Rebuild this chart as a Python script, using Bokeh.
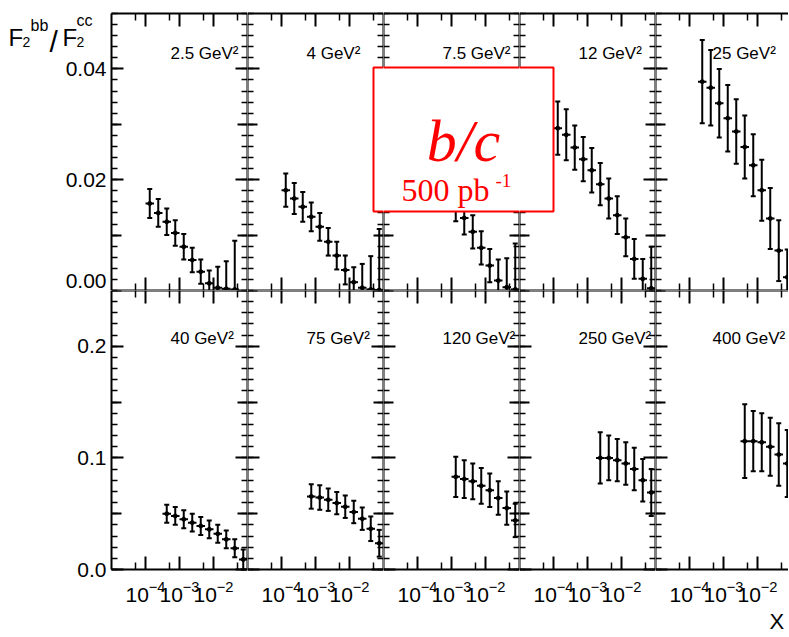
import math
from bokeh.plotting import figure
from bokeh.models import (Range1d, LinearAxis, LogAxis, FixedTicker,
                          PrintfTickFormatter, Label, BoxAnnotation, ColumnDataSource)
from bokeh.layouts import column, row
from bokeh.embed import file_html
from bokeh.resources import INLINE

# ---------------- data ----------------
X_BINS = [1.334e-4, 2.371e-4, 4.217e-4, 7.499e-4, 1.334e-3, 2.371e-3,
          4.217e-3, 7.499e-3, 1.334e-2, 2.371e-2, 4.217e-2, 7.499e-2]
BIN_HALF_DECADES = 0.125

Q2_TOP = ["2.5", "4", "7.5", "12", "25"]
Q2_BOTTOM = ["40", "75", "120", "250", "400"]
FIRST_BIN_TOP = [0, 0, 0, 0, 1]
FIRST_BIN_BOTTOM = [2, 3, 4, 5, 6]

RATIO_Q2_2P5 = [0.0157, 0.0140, 0.0124, 0.0104, 0.0079, 0.0055, 0.0034, 0.0013, 0.0005, 0.0003, 0.0002]
ERR_Q2_2P5 = [0.0026, 0.0025, 0.0024, 0.0023, 0.0023, 0.0022, 0.0022, 0.0023, 0.0038, 0.0050, 0.0088]
RATIO_Q2_4 = [0.0181, 0.0166, 0.0151, 0.0133, 0.0115, 0.0088, 0.0063, 0.0037, 0.0015, 0.0005, 0.0002, 0.0001]
ERR_Q2_4 = [0.0030, 0.0028, 0.0027, 0.0026, 0.0025, 0.0025, 0.0025, 0.0026, 0.0027, 0.0043, 0.0060, 0.0110]
RATIO_Q2_7P5 = [0.0228, 0.0214, 0.0199, 0.0178, 0.0153, 0.0131, 0.0106, 0.0077, 0.0045, 0.0018, 0.0006, 0.0002]
ERR_Q2_7P5 = [0.0032, 0.0031, 0.0030, 0.0029, 0.0028, 0.0030, 0.0030, 0.0030, 0.0030, 0.0038, 0.0052, 0.0083]
RATIO_Q2_12 = [0.0293, 0.0281, 0.0258, 0.0237, 0.0217, 0.0192, 0.0166, 0.0136, 0.0096, 0.0057, 0.0021, 0.0004]
ERR_Q2_12 = [0.0048, 0.0046, 0.0040, 0.0040, 0.0040, 0.0038, 0.0036, 0.0034, 0.0034, 0.0036, 0.0036, 0.0075]
RATIO_Q2_25 = [0.0377, 0.0366, 0.0338, 0.0311, 0.0287, 0.0259, 0.0226, 0.0181, 0.0130, 0.0072, 0.0024]
ERR_Q2_25 = [0.0075, 0.0068, 0.0062, 0.0060, 0.0058, 0.0057, 0.0056, 0.0055, 0.0055, 0.0055, 0.0050]

RATIO_Q2_40 = [0.050, 0.048, 0.045, 0.042, 0.039, 0.036, 0.032, 0.027, 0.019, 0.009]
ERR_Q2_40 = [0.008, 0.008, 0.008, 0.008, 0.008, 0.008, 0.008, 0.008, 0.008, 0.009]
RATIO_Q2_75 = [0.0655, 0.0645, 0.0625, 0.0595, 0.0562, 0.0515, 0.0455, 0.0365, 0.0235]
ERR_Q2_75 = [0.011, 0.011, 0.010, 0.010, 0.010, 0.010, 0.010, 0.011, 0.012]
RATIO_Q2_120 = [0.083, 0.081, 0.079, 0.075, 0.071, 0.064, 0.055, 0.044]
ERR_Q2_120 = [0.018, 0.017, 0.016, 0.016, 0.015, 0.015, 0.015, 0.015]
RATIO_Q2_250 = [0.100, 0.100, 0.098, 0.095, 0.090, 0.080, 0.069]
ERR_Q2_250 = [0.023, 0.020, 0.019, 0.019, 0.019, 0.019, 0.021]
RATIO_Q2_400 = [0.115, 0.115, 0.114, 0.110, 0.103, 0.095]
ERR_Q2_400 = [0.033, 0.027, 0.026, 0.026, 0.028, 0.030]

TOP_VALUES = [RATIO_Q2_2P5, RATIO_Q2_4, RATIO_Q2_7P5, RATIO_Q2_12, RATIO_Q2_25]
TOP_ERRORS = [ERR_Q2_2P5, ERR_Q2_4, ERR_Q2_7P5, ERR_Q2_12, ERR_Q2_25]
BOTTOM_VALUES = [RATIO_Q2_40, RATIO_Q2_75, RATIO_Q2_120, RATIO_Q2_250, RATIO_Q2_400]
BOTTOM_ERRORS = [ERR_Q2_40, ERR_Q2_75, ERR_Q2_120, ERR_Q2_250, ERR_Q2_400]

Y_MAX_TOP = 0.05
Y_MAX_BOTTOM = 0.25
Y_TICKS_TOP = [0.02, 0.04]          # "0.00" is written separately (it sits on the row boundary)
Y_MEDIUM_TOP = [0.01, 0.03]
Y_MINOR_TOP = [round(0.002 * i, 4) for i in range(26)]
Y_TICKS_BOTTOM = [0.0, 0.1, 0.2]
Y_MEDIUM_BOTTOM = [0.05, 0.15, 0.25]
Y_MINOR_BOTTOM = [round(0.01 * i, 3) for i in range(26)]
X_TICKS = [1e-4, 1e-3, 1e-2]
X_MINOR_TICKS = [5e-5, 5e-4, 5e-3, 5e-2]
X_START = 1e-5
X_END = 1e-1

# ---------------- layout / style (pixels) ----------------
LEFT_PAD = 111          # space left of the first panel (inside first frame)
TOP_PAD = 13            # space above the top row panels
BOTTOM_PAD = 67         # space below the bottom row panels
PANEL_W = 136
LAST_W = 133
TOP_H = 277
BOT_H = 279
DECADE_PX = 34.0
BOX_TOP, BOX_BOTTOM = 223, 79     # red box, pixels above the top row's y = 0 line
BOX_GAP = (Y_MAX_TOP * BOX_BOTTOM / TOP_H, Y_MAX_TOP * BOX_TOP / TOP_H)
TICK_FONT = "Liberation Sans"
SERIF_FONT = "Liberation Serif"


def style_axis(ax, labeled, size, major_len, minor_len, bounds):
    ax.bounds = bounds
    ax.axis_line_color = "black"
    ax.axis_line_width = 2
    ax.major_tick_in = major_len
    ax.major_tick_out = 0
    ax.minor_tick_in = minor_len
    ax.minor_tick_out = 0
    ax.major_tick_line_color = "black"
    ax.major_tick_line_width = 2
    ax.minor_tick_line_color = "black"
    ax.minor_tick_line_width = 1.5
    ax.major_label_text_font = TICK_FONT
    ax.major_label_text_font_size = size
    if labeled:
        ax.major_label_text_color = "black"
    else:
        ax.major_label_text_color = None
        ax.major_label_text_alpha = 0.0


def within(vals, bounds):
    lo, hi = bounds
    return [v for v in vals if lo - 1e-9 <= v <= hi + 1e-9]


def add_y_axes(p, top, labeled, xend, has_right, gap_left, gap_right):
    ticks = Y_TICKS_TOP if top else Y_TICKS_BOTTOM
    medium = Y_MEDIUM_TOP if top else Y_MEDIUM_BOTTOM
    minor = Y_MINOR_TOP if top else Y_MINOR_BOTTOM
    ymax = Y_MAX_TOP if top else Y_MAX_BOTTOM
    fmt = "%.2f" if top else "%.1f"
    sides = [("left", X_START, labeled, gap_left)]
    if has_right:
        sides.append(("right", xend, False, gap_right))
    for side, loc, lab, gap in sides:
        pieces = [(0, BOX_GAP[0]), (BOX_GAP[1], ymax)] if gap else [(0, ymax)]
        for bounds in pieces:
            ax = LinearAxis(ticker=FixedTicker(ticks=within(ticks, bounds),
                                               minor_ticks=within(minor, bounds)),
                            formatter=PrintfTickFormatter(format=fmt), fixed_location=loc)
            style_axis(ax, lab, "21px", 12, 6, bounds)
            ax.major_label_standoff = 5
            p.add_layout(ax, side)
            med = LinearAxis(ticker=FixedTicker(ticks=within(medium, bounds), minor_ticks=[]),
                             fixed_location=loc)
            style_axis(med, False, "21px", 10, 0, bounds)
            med.axis_line_color = None
            p.add_layout(med, side)


def add_x_axes(p, top, xend):
    ymax = Y_MAX_TOP if top else Y_MAX_BOTTOM
    for side, loc, lab in [("above", ymax, False), ("below", 0.0, not top)]:
        ax = LogAxis(ticker=FixedTicker(ticks=X_TICKS, minor_ticks=X_MINOR_TICKS),
                     fixed_location=loc)
        style_axis(ax, lab, "21px", 13, 7, (X_START, xend))
        ax.major_label_standoff = 11
        p.add_layout(ax, side)


def draw_points(p, first, vals, errs):
    xs = X_BINS[first:first + len(vals)]
    src = ColumnDataSource(dict(
        x=xs, y=vals,
        xlo=[x * 10 ** (-BIN_HALF_DECADES) for x in xs],
        xhi=[x * 10 ** BIN_HALF_DECADES for x in xs],
        ylo=[v - e for v, e in zip(vals, errs)],
        yhi=[v + e for v, e in zip(vals, errs)],
    ))
    p.segment(x0="xlo", x1="xhi", y0="y", y1="y", source=src,
              line_color="black", line_width=2)
    p.segment(x0="x", x1="x", y0="ylo", y1="yhi", source=src,
              line_color="black", line_width=2)
    for col in ("ylo", "yhi"):
        p.scatter(x="x", y=col, source=src, marker="dash", size=5,
                  line_color="black", line_width=2)
    p.scatter(x="x", y="y", source=src, marker="circle", size=4,
              line_color="black", fill_color="black")


def make_panel(top, col):
    first = col == 0
    last = col == 4
    data_w = LAST_W if last else PANEL_W
    fw = data_w + (LEFT_PAD if first else 0)
    lo_dec = math.log10(X_START) - (LEFT_PAD / DECADE_PX if first else 0)
    xend = 10 ** (math.log10(X_START) + data_w / DECADE_PX) if last else X_END
    if top:
        fh = TOP_H + TOP_PAD
        y0, y1 = 0.0, Y_MAX_TOP * (TOP_H + TOP_PAD) / TOP_H
    else:
        fh = BOT_H + BOTTOM_PAD
        y0, y1 = -Y_MAX_BOTTOM * BOTTOM_PAD / BOT_H, Y_MAX_BOTTOM
    p = figure(frame_width=fw, frame_height=fh, x_axis_type="log",
               x_range=Range1d(10 ** lo_dec, xend), y_range=Range1d(y0, y1),
               x_axis_location=None, y_axis_location=None,
               toolbar_location=None, output_backend="svg",
               min_border_left=0, min_border_right=0,
               min_border_top=0, min_border_bottom=0,
               outline_line_color=None,
               background_fill_color="white", border_fill_color="white")
    p.grid.visible = False
    gap_left = top and col in (2, 3)
    gap_right = top and col in (1, 2)
    add_y_axes(p, top, first, xend, not last, gap_left, gap_right)
    add_x_axes(p, top, xend)
    if top:
        draw_points(p, FIRST_BIN_TOP[col], TOP_VALUES[col], TOP_ERRORS[col])
        q2, ly = Q2_TOP[col], 237
    else:
        draw_points(p, FIRST_BIN_BOTTOM[col], BOTTOM_VALUES[col], BOTTOM_ERRORS[col])
        q2, ly = Q2_BOTTOM[col], BOT_H + BOTTOM_PAD - 48
    lx = 111 + 59 if first else (57 if last else 59)
    p.add_layout(Label(x=lx, y=ly, x_units="screen", y_units="screen",
                       text=f"{q2} GeV\u00b2", text_font=TICK_FONT,
                       text_font_size="17px", text_color="black",
                       text_baseline="alphabetic"))
    return p


top_panels = [make_panel(True, c) for c in range(5)]
bottom_panels = [make_panel(False, c) for c in range(5)]

# y title  F2^bb / F2^cc  (top-left corner)
t = top_panels[0]
for txt, x, y, size in [("F", 8, 253, "24px"), ("2", 22, 249, "14px"),
                        ("bb", 30, 265, "16px"), ("/", 49, 249, "30px"),
                        ("F", 62, 253, "24px"), ("cc", 76, 270, "16px"),
                        ("2", 76, 249, "14px")]:
    t.add_layout(Label(x=x, y=y, x_units="screen", y_units="screen", text=txt,
                       text_font=TICK_FONT, text_font_size=size,
                       text_color="black", text_baseline="alphabetic"))

# "0.00" tick label of the top row, sitting just above the row boundary
t.add_layout(Label(x=LEFT_PAD - 5, y=3, x_units="screen", y_units="screen",
                   text="0.00", text_font=TICK_FONT, text_font_size="21px",
                   text_color="black", text_align="right", text_baseline="bottom"))

# x title at the right edge
bottom_panels[4].add_layout(Label(x=114, y=28, x_units="screen", y_units="screen",
                                  text="X", text_font=TICK_FONT, text_font_size="22px",
                                  text_color="black", text_baseline="top"))

# red b/c box, drawn piecewise over panels 2-4 of the top row
for col, left, right in [(1, 126, 150), (2, -10, 150), (3, -10, 34)]:
    top_panels[col].add_layout(BoxAnnotation(
        left=left, right=right, top=BOX_TOP, bottom=BOX_BOTTOM,
        left_units="screen", right_units="screen",
        top_units="screen", bottom_units="screen",
        fill_color="white", fill_alpha=1.0,
        line_color="red", line_alpha=1.0, line_width=2, level="overlay"))

p3 = top_panels[2]
p3.add_layout(Label(x=80, y=150, x_units="screen", y_units="screen", text="b/c",
                    text_font=SERIF_FONT, text_font_style="italic",
                    text_font_size="60px", text_color="red",
                    text_align="center", text_baseline="alphabetic", level="overlay"))
p3.add_layout(Label(x=18, y=101, x_units="screen", y_units="screen", text="500 pb",
                    text_font=SERIF_FONT, text_font_size="32px", text_color="red",
                    text_baseline="alphabetic", level="overlay"))
p3.add_layout(Label(x=112, y=110, x_units="screen", y_units="screen",
                    text="-1", text_font=SERIF_FONT,
                    text_font_size="19px", text_color="red",
                    text_baseline="alphabetic", level="overlay"))

layout = column(row(*top_panels), row(*bottom_panels))
open("out.html", "w").write(file_html(layout, INLINE))
